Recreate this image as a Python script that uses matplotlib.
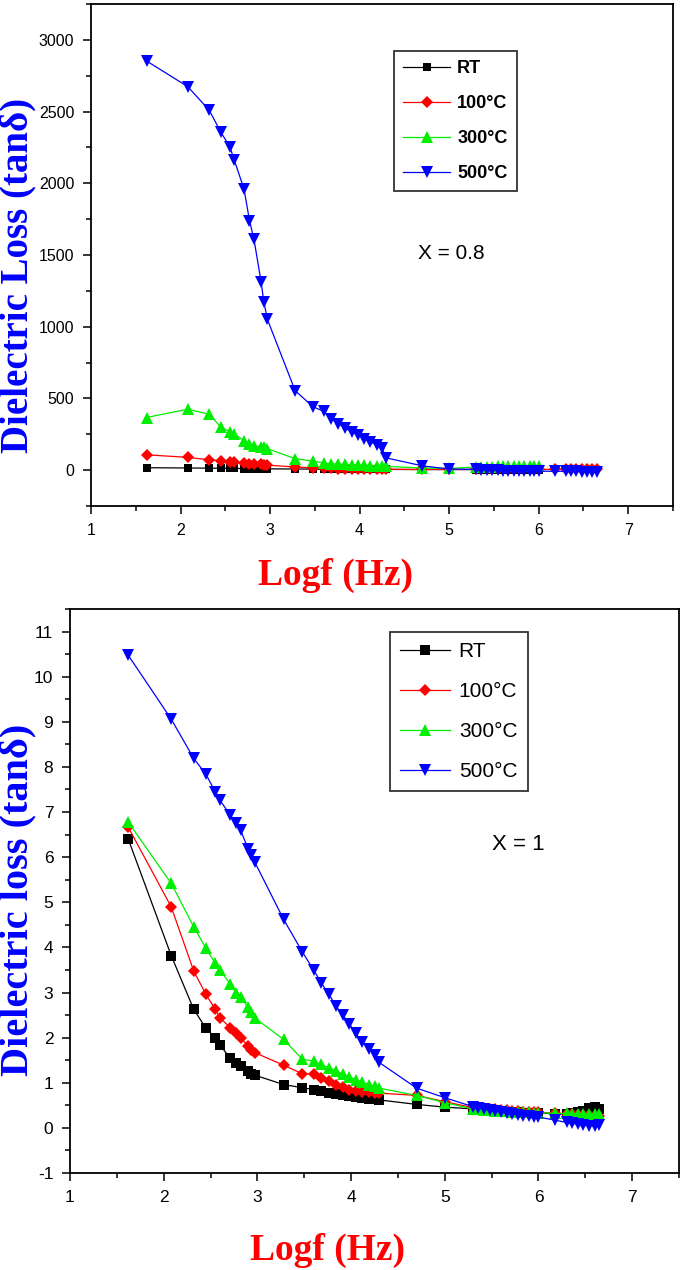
import matplotlib
matplotlib.use("Agg")
import matplotlib.pyplot as plt
import numpy as np

plt.rcParams['font.family'] = ['Liberation Sans', 'DejaVu Sans']
plt.rcParams['axes.unicode_minus'] = False

# ---------------- data ----------------
logf = [1.62, 2.08, 2.32, 2.45, 2.55, 2.60, 2.71, 2.77, 2.82, 2.90, 2.93, 2.97,
        3.28, 3.48, 3.60, 3.68, 3.76, 3.84, 3.91, 3.98, 4.05, 4.12, 4.19, 4.25, 4.30,
        4.70, 5.00,
        5.30, 5.36, 5.42, 5.48, 5.54, 5.60, 5.66, 5.72, 5.78, 5.84, 5.90, 5.95, 6.00,
        6.18, 6.30, 6.36, 6.42, 6.48, 6.54, 6.60, 6.65]

labels = ['RT', '100°C', '300°C', '500°C']

# X = 0.8 (top panel)
top_RT = [17, 15, 14, 13, 12, 12, 11, 11, 10, 10, 10, 9,
          8, 7, 7, 6, 6, 6, 5, 5, 5, 5, 5, 5, 5,
          4, 4,
          4, 4, 4, 4, 4, 4, 4, 4, 4, 4, 4, 4, 4]
top_100 = [107, 89, 72, 65, 58, 55, 48, 45, 42, 40, 38, 35,
           22, 16, 14, 12, 11, 10, 9, 8, 7, 7, 6, 6, 6,
           5, 5,
           5, 5, 5, 5, 5, 5, 5, 5, 5, 5, 5, 5, 5,
           5, 5, 5, 5, 5, 5, 5, 5]
top_300 = [367, 425, 390, 300, 268, 255, 203, 180, 170, 162, 164, 150,
           80, 63, 50, 45, 42, 40, 38, 36, 34, 32, 30, 28, 26,
           15, 12,
           22, 23, 24, 25, 26, 27, 27, 28, 28, 28, 28, 28, 28]
top_500 = [2853, 2674, 2510, 2356, 2256, 2162, 1958, 1740, 1610, 1312, 1175, 1051,
           554, 442, 410, 360, 325, 292, 268, 245, 220, 198, 175, 155, 85,
           30, 8,
           5, 3, 2, 0, -2, -3, -4, -5, -5, -6, -6, -7, -7,
           -8, -8, -9, -9, -10, -10, -10, -10]

# X = 1 (bottom panel)
bot_RT = [6.41, 3.82, 2.63, 2.21, 2.00, 1.84, 1.54, 1.44, 1.37, 1.26, 1.20, 1.17,
          0.96, 0.89, 0.85, 0.81, 0.78, 0.75, 0.73, 0.71, 0.69, 0.67, 0.65, 0.63, 0.62,
          0.52, 0.46,
          0.42, 0.41, 0.40, 0.39, 0.38, 0.37, 0.36, 0.35, 0.35, 0.34, 0.34, 0.33, 0.33,
          0.31, 0.30, 0.32, 0.35, 0.38, 0.44, 0.46, 0.42]
bot_100 = [6.67, 4.90, 3.48, 2.96, 2.63, 2.44, 2.22, 2.11, 2.00, 1.82, 1.72, 1.67,
           1.39, 1.20, 1.19, 1.11, 1.04, 0.96, 0.90, 0.85, 0.81, 0.80, 0.79, 0.78, 0.77,
           0.72, 0.58,
           0.45, 0.44, 0.43, 0.42, 0.41, 0.40, 0.39, 0.38, 0.37, 0.36, 0.36, 0.35, 0.35,
           0.32, 0.30, 0.30, 0.29, 0.28, 0.28, 0.27, 0.26]
bot_300 = [6.78, 5.42, 4.46, 3.98, 3.65, 3.50, 3.19, 3.00, 2.89, 2.67, 2.56, 2.44,
           1.96, 1.52, 1.48, 1.41, 1.33, 1.27, 1.19, 1.13, 1.07, 1.02, 0.96, 0.92, 0.88,
           0.72, 0.56,
           0.42, 0.41, 0.40, 0.39, 0.38, 0.37, 0.37, 0.36, 0.36, 0.35, 0.35, 0.34, 0.34,
           0.32, 0.32, 0.31, 0.31, 0.30, 0.30, 0.30, 0.30]
bot_500 = [10.48, 9.06, 8.19, 7.84, 7.45, 7.26, 6.94, 6.75, 6.60, 6.19, 6.05, 5.90,
           4.62, 3.90, 3.50, 3.22, 2.97, 2.70, 2.50, 2.31, 2.10, 1.90, 1.75, 1.62, 1.45,
           0.88, 0.67,
           0.47, 0.44, 0.41, 0.39, 0.37, 0.35, 0.33, 0.31, 0.29, 0.27, 0.26, 0.25, 0.24,
           0.17, 0.12, 0.10, 0.08, 0.06, 0.05, 0.04, 0.06]

colors = ['black', 'red', '#00ee00', 'blue']
markers = ['s', 'D', '^', 'v']

# ---------------- figure ----------------
W, H = 685, 1270
fig = plt.figure(figsize=(W / 100, H / 100), dpi=100)

ax1 = fig.add_axes([91 / W, 1 - 506 / H, (673 - 91) / W, (506 - 4) / H])
ax2 = fig.add_axes([70 / W, 1 - 1173 / H, (679 - 70) / W, (1173 - 609) / H])

top_series = [top_RT, top_100, top_300, top_500]
bot_series = [bot_RT, bot_100, bot_300, bot_500]
top_ms = [5.5, 6, 8, 8]
bot_ms = [6.5, 6.5, 8.5, 8.5]

for ys, c, m, lab, ms in zip(top_series, colors, markers, labels, top_ms):
    ax1.plot(logf[:len(ys)], ys, color=c, marker=m, markersize=ms, lw=0.9,
             markeredgewidth=0, label=lab)
for ys, c, m, lab, ms in zip(bot_series, colors, markers, labels, bot_ms):
    ax2.plot(logf[:len(ys)], ys, color=c, marker=m, markersize=ms, lw=0.9,
             markeredgewidth=0, label=lab)

ax1.set_xlim(1, 7.5)
ax1.set_ylim(-250, 3250)
ax1.set_xticks(np.arange(1, 8, 1))
ax1.set_xticks(np.arange(1.5, 7.6, 1), minor=True)
ax1.set_yticks(np.arange(0, 3001, 500))
ax1.set_yticks(np.arange(-250, 3251, 500), minor=True)

ax2.set_xlim(1, 7.5)
ax2.set_ylim(-1, 11.5)
ax2.set_xticks(np.arange(1, 8, 1))
ax2.set_xticks(np.arange(1.5, 7.6, 1), minor=True)
ax2.set_yticks(np.arange(-1, 12, 1))
ax2.set_yticks(np.arange(-0.5, 11.6, 1), minor=True)

for ax, fs in [(ax1, 11.5), (ax2, 12.5)]:
    for s in ax.spines.values():
        s.set_linewidth(1.3)
    ax.tick_params(which='both', direction='out', top=False, right=False,
                   width=1.1, labelsize=fs, pad=6)
    ax.tick_params(which='major', length=6)
    ax.tick_params(which='minor', length=3.5)

# annotations
ax1.text(5.02, 1510, 'X = 0.8', fontsize=15, ha='center', va='center')
ax2.text(5.79, 6.28, 'X = 1', fontsize=16, ha='center', va='center')

# legends
leg1 = ax1.legend(loc='upper left', bbox_to_anchor=(394 / W, 1 - 51 / H),
                  bbox_transform=fig.transFigure, frameon=True, fancybox=False,
                  borderaxespad=0, prop={'size': 13, 'weight': 'bold'},
                  handlelength=2.6, handletextpad=0.4, labelspacing=1.0,
                  borderpad=0.5)
leg2 = ax2.legend(loc='upper left', bbox_to_anchor=(390 / W, 1 - 632 / H),
                  bbox_transform=fig.transFigure, frameon=True, fancybox=False,
                  borderaxespad=0, prop={'size': 15},
                  handlelength=2.4, handletextpad=0.4, labelspacing=1.0,
                  borderpad=0.5)
for leg in (leg1, leg2):
    fr = leg.get_frame()
    fr.set_edgecolor('black')
    fr.set_linewidth(1.3)

# axis labels (bold serif, coloured)
lab_font = dict(family=['Liberation Serif', 'DejaVu Serif'], weight='bold')
fig.text(18 / W, 1 - 275 / H, 'Dielectric Loss (tanδ)', rotation=90,
         color='blue', fontsize=28, ha='center', va='center', **lab_font)
fig.text(335 / W, 1 - 575 / H, 'Logf (Hz)', color='red', fontsize=27,
         ha='center', va='center', **lab_font)
fig.text(18 / W, 1 - 900 / H, 'Dielectric loss (tanδ)', rotation=90,
         color='blue', fontsize=29, ha='center', va='center', **lab_font)
fig.text(328 / W, 1 - 1250 / H, 'Logf (Hz)', color='red', fontsize=27,
         ha='center', va='center', **lab_font)

fig.savefig('out.png', dpi=100)
